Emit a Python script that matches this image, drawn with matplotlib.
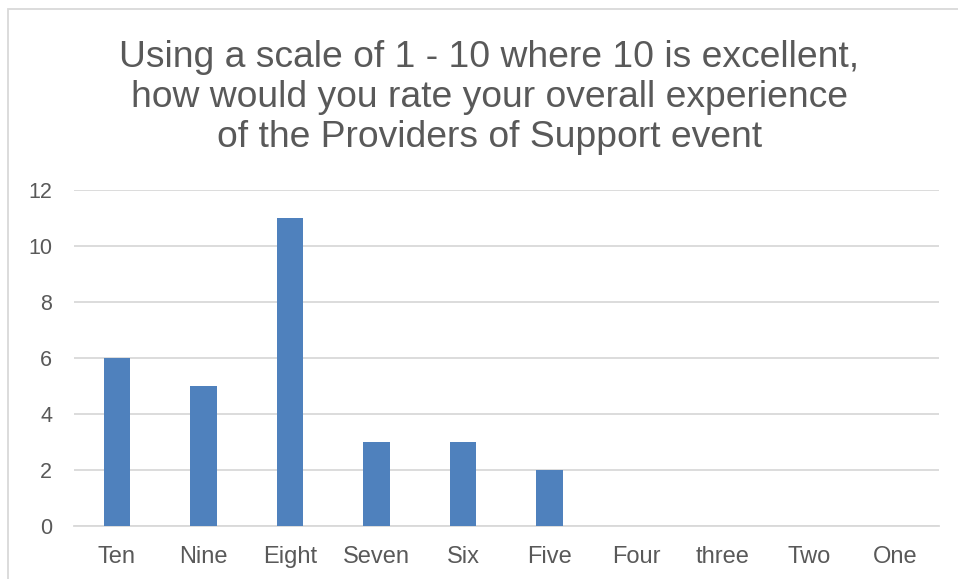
import matplotlib
matplotlib.use("Agg")
import matplotlib.pyplot as plt
from matplotlib.patches import Rectangle

categories = ["Ten", "Nine", "Eight", "Seven", "Six", "Five", "Four", "three", "Two", "One"]
counts = [6, 5, 11, 3, 3, 2, 0, 0, 0, 0]
y_ticks = [0, 2, 4, 6, 8, 10, 12]
title = ("Using a scale of 1 - 10 where 10 is excellent,\n"
         "how would you rate your overall experience\n"
         "of the Providers of Support event")

plt.rcParams["font.family"] = ["Liberation Sans", "DejaVu Sans"]
text_color = "#595959"
grid_color = "#D9D9D9"
bar_color = "#4F81BD"

fig = plt.figure(figsize=(9.58, 5.79), dpi=100)
W, H = 958, 579

# chart border
fig.patches.append(Rectangle((8 / W, -0.1), 1.1, (H - 9) / H + 0.1,
                             transform=fig.transFigure, fill=False,
                             edgecolor=grid_color, linewidth=1.3))

ax = fig.add_axes([73.75 / W, (H - 526) / H, 865 / W, 336 / H])
x = range(len(categories))
ax.bar(x, counts, width=0.31, color=bar_color, zorder=3)

ax.set_xlim(-0.5, len(categories) - 0.5)
ax.set_ylim(0, 12)
ax.set_yticks(y_ticks)
ax.set_xticks(list(x))
ax.set_xticklabels(categories)
ax.yaxis.grid(True, color=grid_color, linewidth=1.3, zorder=0)
ax.set_axisbelow(True)
for s in ["top", "right", "left"]:
    ax.spines[s].set_visible(False)
ax.spines["bottom"].set_color(grid_color)
ax.spines["bottom"].set_linewidth(1.3)
ax.tick_params(axis="both", length=0, labelcolor=text_color)
ax.tick_params(axis="x", pad=14.5, labelsize=17)
ax.tick_params(axis="y", pad=15.5, labelsize=15.5)

fig.text(0.511, (H - 40) / H, title, ha="center", va="top", fontsize=26.8,
         color=text_color, linespacing=1.19)

fig.savefig("out.png", dpi=100)
